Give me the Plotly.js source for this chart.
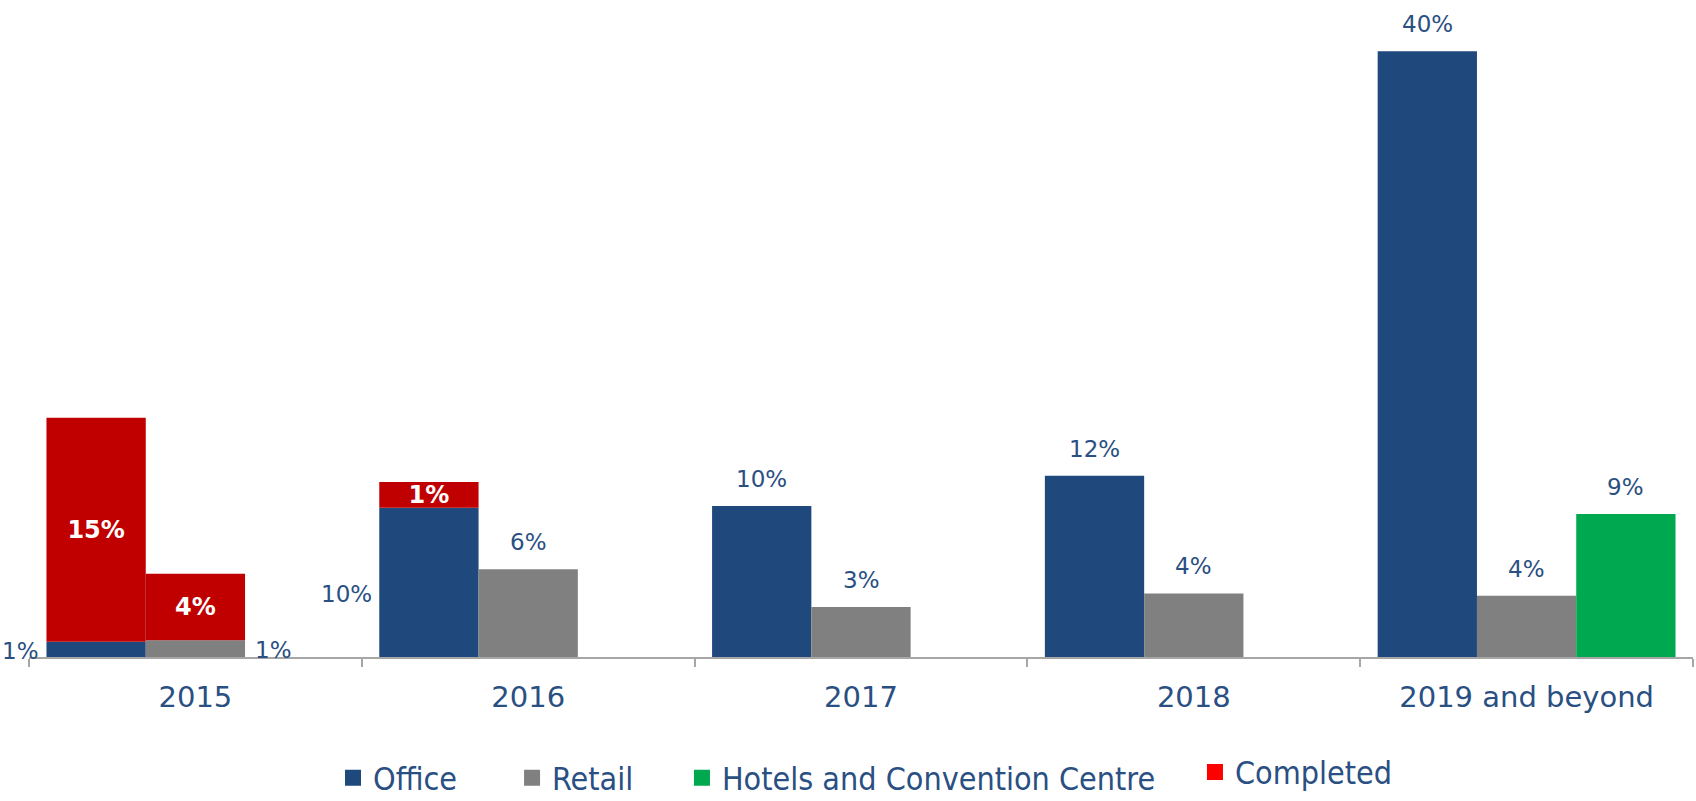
<!DOCTYPE html>
<html><head><meta charset="utf-8">
<script src="https://cdn.plot.ly/plotly-3.0.1.min.js"></script>
<style>html,body{margin:0;padding:0;background:#fff}#chart{width:1696px;height:801px}</style>
</head><body><div id="chart"></div>
<script>
const categories = ['2015', '2016', '2017', '2018', '2019 and beyond'];
const office = [1.0, 9.85, 9.97, 11.97, 40.0];
const retail = [1.1, 5.8, 3.3, 4.2, 4.05];
const hotels = [null, null, null, null, 9.44];
const completedOffice = [14.8, 1.7, null, null, null];
const completedRetail = [4.4, null, null, null, null];
const officeLabels = ['1%', '10%', '10%', '12%', '40%'];
const retailLabels = ['1%', '6%', '3%', '4%', '4%'];
const hotelsLabels = ['', '', '', '', '9%'];
const completedOfficeLabels = ['15%', '1%', '', '', ''];
const completedRetailLabels = ['4%', '', '', '', ''];
const legendNames = ['Office', 'Retail', 'Hotels and Convention Centre', 'Completed'];

const BLUE = '#1F497D', GREY = '#808080', GREEN = '#00A84F', DARKRED = '#C00000', RED = '#FF0000';
const TXT = '#2A4F82';
const FONT = 'DejaVu Sans';
const bargap = 0.105;
const groupW = 1 - bargap, slotW = groupW / 3;

const labelFont = {family: FONT, size: 23, color: TXT};
const insideFont = {family: FONT, size: 24, color: '#FFFFFF'};

const traces = [
  {type: 'bar', name: legendNames[0], x: categories, y: office, offsetgroup: 'o', showlegend: false,
   marker: {color: BLUE}, hoverinfo: 'x+y'},
  {type: 'bar', name: legendNames[3], x: categories, y: completedOffice, base: office, offsetgroup: 'o', showlegend: false,
   marker: {color: DARKRED}, text: completedOfficeLabels.map(t => t ? '<b>' + t + '</b>' : ''),
   textposition: 'inside', insidetextanchor: 'middle', textfont: insideFont, constraintext: 'none', cliponaxis: false, hoverinfo: 'x+y'},
  {type: 'bar', name: legendNames[1], x: categories, y: retail, offsetgroup: 'r', showlegend: false,
   marker: {color: GREY}, hoverinfo: 'x+y'},
  {type: 'bar', name: legendNames[3], x: categories, y: completedRetail, base: retail, offsetgroup: 'r', showlegend: false,
   marker: {color: DARKRED}, text: completedRetailLabels.map(t => t ? '<b>' + t + '</b>' : ''),
   textposition: 'inside', insidetextanchor: 'middle', textfont: insideFont, constraintext: 'none', cliponaxis: false, hoverinfo: 'x+y'},
  {type: 'bar', name: legendNames[2], x: categories, y: hotels, offsetgroup: 'h', showlegend: false,
   marker: {color: GREEN}, hoverinfo: 'x+y'}
];

// legend entries (square swatches)
const legendColors = [BLUE, GREY, GREEN, RED];
const legendIds = ['legend', 'legend2', 'legend3', 'legend4'];
legendNames.forEach((n, j) => {
  traces.push({type: 'scatter', mode: 'markers', name: n, x: [categories[0]], y: [null], legend: legendIds[j],
    marker: {symbol: 'square', size: 16, color: legendColors[j]}, hoverinfo: 'skip', showlegend: true});
});

// value labels: above the bar, or beside it when a "Completed" segment is stacked on top
const annotations = [];
const series = [
  {vals: office, labels: officeLabels, stacked: completedOffice, k: 0, side: 'left'},
  {vals: retail, labels: retailLabels, stacked: completedRetail, k: 1, side: 'right'},
  {vals: hotels, labels: hotelsLabels, stacked: [null, null, null, null, null], k: 2, side: 'right'}
];
series.forEach(s => {
  categories.forEach((c, i) => {
    if (s.vals[i] == null || !s.labels[i]) return;
    const slotLeft = i - groupW / 2 + s.k * slotW;
    if (s.stacked[i] != null) {
      const isLeft = s.side === 'left';
      annotations.push({x: isLeft ? slotLeft : slotLeft + slotW, y: s.vals[i] * 0.42, xref: 'x', yref: 'y',
        text: s.labels[i], showarrow: false, xanchor: isLeft ? 'right' : 'left', yanchor: 'middle',
        xshift: isLeft ? -5 : 8, yshift: 0, font: labelFont});
    } else {
      annotations.push({x: slotLeft + slotW / 2, y: s.vals[i], xref: 'x', yref: 'y',
        text: s.labels[i], showarrow: false, xanchor: 'center', yanchor: 'middle',
        yshift: 27, font: labelFont});
    }
  });
});

const legendBase = {orientation: 'h', xanchor: 'left', yanchor: 'middle', bgcolor: 'rgba(0,0,0,0)',
  font: {family: 'DejaVu Sans Condensed', size: 32, color: TXT}};

const layout = {
  width: 1696, height: 801,
  margin: {l: 29, r: 3, t: 21, b: 144, autoexpand: false},
  barmode: 'group', bargap: bargap, bargroupgap: 0,
  paper_bgcolor: '#FFFFFF', plot_bgcolor: '#FFFFFF',
  font: {family: FONT, color: TXT},
  xaxis: {type: 'category', range: [-0.5, categories.length - 0.5], tickson: 'boundaries', ticks: 'outside', ticklen: 8, tickwidth: 2,
    tickcolor: '#A6A6A6', showline: true, linecolor: '#A6A6A6', linewidth: 2, showgrid: false,
    tickfont: {family: FONT, size: 29, color: TXT}, ticklabelstandoff: 13},
  yaxis: {range: [0, 42], visible: false, showgrid: false, zeroline: false},
  showlegend: true,
  legend: Object.assign({}, legendBase, {x: 0.1827, y: -0.19}),
  legend2: Object.assign({}, legendBase, {x: 0.2903, y: -0.19}),
  legend3: Object.assign({}, legendBase, {x: 0.3924, y: -0.19}),
  legend4: Object.assign({}, legendBase, {x: 0.7007, y: -0.181}),
  annotations: annotations
};

Plotly.newPlot('chart', traces, layout, {displayModeBar: false, staticPlot: true});
</script>
</body></html>
